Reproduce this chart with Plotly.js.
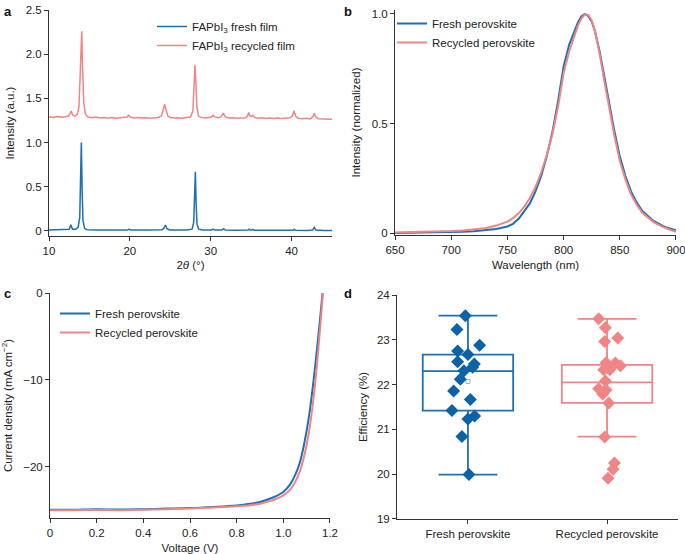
<!DOCTYPE html>
<html>
<head>
<meta charset="utf-8">
<script src="https://cdn.plot.ly/plotly-3.0.1.min.js"></script>
<style>
  html, body { margin: 0; padding: 0; background: #fff; }
  #chart { width: 685px; height: 554px; }
</style>
</head>
<body>
<div id="chart"></div>
<script>
// a: XRD patterns
const xrdFreshX = [10, 11, 12, 12.5, 12.7, 12.9, 13.3, 13.6, 13.8, 13.9, 14.0, 14.1, 14.2, 14.4, 14.7, 16, 18, 19.7, 19.9, 20.1, 22, 24.0, 24.2, 24.4, 24.6, 24.9, 27, 27.7, 27.9, 28.0, 28.1, 28.2, 28.3, 28.5, 29, 30.1, 30.3, 30.5, 31.4, 31.6, 31.8, 33, 34.6, 34.75, 34.9, 35.2, 35.4, 38, 40.2, 40.35, 40.5, 42, 42.6, 42.8, 43.0, 44, 45];
const xrdFreshY = [0.012, 0.012, 0.013, 0.02, 0.07, 0.02, 0.02, 0.04, 0.15, 0.5, 1.0, 0.45, 0.12, 0.03, 0.015, 0.01, 0.01, 0.01, 0.02, 0.01, 0.01, 0.015, 0.03, 0.065, 0.025, 0.012, 0.01, 0.02, 0.1, 0.35, 0.67, 0.3, 0.08, 0.02, 0.012, 0.01, 0.02, 0.01, 0.01, 0.025, 0.01, 0.008, 0.01, 0.02, 0.008, 0.015, 0.008, 0.007, 0.008, 0.018, 0.007, 0.006, 0.01, 0.04, 0.01, 0.005, 0.005];

const xrdRecX = [10, 10.5, 11, 11.5, 12, 12.4, 12.6, 12.75, 12.9, 13.2, 13.5, 13.7, 13.85, 13.95, 14.05, 14.15, 14.3, 14.5, 14.8, 15.3, 15.8, 16.3, 16.8, 17.3, 17.8, 18.3, 18.8, 19.3, 19.65, 19.85, 20.05, 20.5, 21, 21.5, 22, 22.5, 23, 23.5, 23.9, 24.15, 24.3, 24.45, 24.7, 25.0, 25.5, 26, 26.5, 27, 27.5, 27.8, 27.95, 28.05, 28.15, 28.3, 28.5, 28.8, 29.3, 29.8, 30.1, 30.3, 30.5, 30.9, 31.3, 31.55, 31.8, 32.3, 32.8, 33.3, 33.8, 34.3, 34.55, 34.7, 34.85, 35.05, 35.2, 35.4, 35.8, 36.3, 36.8, 37.3, 37.8, 38.3, 38.8, 39.3, 39.8, 40.1, 40.3, 40.5, 40.8, 41.3, 41.8, 42.3, 42.6, 42.8, 43.0, 43.3, 43.8, 44.3, 44.8, 45];
const xrdRecY = [1.292, 1.285, 1.295, 1.287, 1.293, 1.30, 1.33, 1.357, 1.315, 1.30, 1.32, 1.40, 1.75, 2.15, 2.26, 1.85, 1.45, 1.32, 1.29, 1.282, 1.288, 1.278, 1.285, 1.276, 1.283, 1.275, 1.281, 1.279, 1.29, 1.31, 1.288, 1.278, 1.284, 1.277, 1.282, 1.276, 1.28, 1.285, 1.30, 1.37, 1.433, 1.38, 1.30, 1.283, 1.277, 1.281, 1.276, 1.283, 1.29, 1.36, 1.65, 1.88, 1.70, 1.40, 1.30, 1.285, 1.278, 1.282, 1.29, 1.31, 1.29, 1.28, 1.29, 1.335, 1.29, 1.277, 1.281, 1.274, 1.279, 1.28, 1.30, 1.34, 1.30, 1.295, 1.31, 1.285, 1.276, 1.28, 1.273, 1.278, 1.272, 1.277, 1.271, 1.275, 1.28, 1.30, 1.36, 1.30, 1.275, 1.27, 1.274, 1.268, 1.29, 1.33, 1.29, 1.27, 1.266, 1.27, 1.264, 1.266];

// b: photoluminescence
const plWave = [650, 670, 690, 700, 710, 720, 730, 740, 750, 755, 760, 765, 770, 775, 780, 785, 790, 795, 800, 805, 810, 813, 816, 819, 822, 825, 828, 832, 836, 840, 845, 850, 855, 860, 865, 870, 880, 890, 900];
const plFresh = [0.0, 0.001, 0.003, 0.004, 0.006, 0.008, 0.012, 0.018, 0.03, 0.042, 0.065, 0.1, 0.135, 0.19, 0.26, 0.35, 0.46, 0.6, 0.76, 0.86, 0.93, 0.965, 0.99, 1.0, 0.99, 0.965, 0.92, 0.83, 0.72, 0.6, 0.47, 0.35, 0.26, 0.19, 0.14, 0.1, 0.055, 0.028, 0.012];
const plRecycled = [0.002, 0.004, 0.007, 0.009, 0.012, 0.016, 0.022, 0.034, 0.052, 0.068, 0.09, 0.12, 0.16, 0.21, 0.275, 0.355, 0.45, 0.575, 0.73, 0.83, 0.91, 0.95, 0.98, 0.998, 0.995, 0.97, 0.92, 0.82, 0.70, 0.58, 0.45, 0.33, 0.245, 0.175, 0.13, 0.092, 0.05, 0.024, 0.006];

// c: J-V curves
const jvFreshV = [0, 0.1, 0.2, 0.3, 0.4, 0.5, 0.6, 0.7, 0.8, 0.85, 0.9, 0.95, 1.0, 1.03, 1.05, 1.07, 1.09, 1.11, 1.13, 1.15, 1.16, 1.168];
const jvFreshJ = [-24.95, -24.95, -24.9, -24.92, -24.88, -24.82, -24.75, -24.62, -24.45, -24.3, -24.05, -23.6, -22.9, -22.0, -21.0, -19.6, -17.3, -14.2, -10.0, -5.0, -2.3, 0];
const jvRecV = [0, 0.1, 0.2, 0.3, 0.4, 0.5, 0.6, 0.7, 0.8, 0.85, 0.9, 0.95, 1.0, 1.03, 1.05, 1.07, 1.09, 1.11, 1.13, 1.15, 1.16, 1.17];
const jvRecJ = [-25.0, -25.0, -24.98, -25.0, -24.95, -24.88, -24.8, -24.7, -24.55, -24.45, -24.25, -23.9, -23.3, -22.6, -21.8, -20.6, -18.7, -16.0, -12.0, -6.5, -3.3, 0];

// d: efficiency distribution
const groups = ['Fresh perovskite', 'Recycled perovskite'];
const effFresh = [23.54, 23.23, 22.88, 22.75, 22.67, 22.51, 22.46, 22.39, 22.31, 22.12, 21.86, 21.67, 21.42, 21.30, 21.23, 20.84, 19.99];
const jitterFresh = [-0.019, -0.079, 0.084, -0.074, 0, -0.074, 0.046, 0.034, -0.029, -0.055, -0.103, 0.017, -0.115, 0.048, 0, -0.043, 0.007];
const effRecycled = [23.47, 23.27, 22.96, 23.04, 22.49, 22.48, 22.42, 22.33, 22.33, 22.08, 21.91, 21.88, 21.79, 21.59, 20.83, 20.25, 20.11, 19.91];
const jitterRecycled = [-0.06, -0.012, -0.017, 0.077, -0.007, 0.06, 0.096, -0.024, 0.019, -0.012, -0.06, -0.007, -0.031, 0.012, -0.017, 0.053, 0.043, 0.007];
const boxQ1 = [21.42, 21.59];
const boxMedian = [22.30, 22.05];
const boxQ3 = [22.67, 22.44];
const boxLow = [19.99, 20.84];
const boxHigh = [23.54, 23.47];
const boxMean = [22.07, 22.06];

const BLUE = '#1f6fb2';
const BLUE_DOT = '#0b62a6';
const PINK = '#ef8585';
const FONT = 'Liberation Sans, Arial, sans-serif';
const W = 685, H = 554;

// pixel helpers for domains
const dx = (a, b) => [a / W, b / W];
const dy = (top, bottom) => [1 - bottom / H, 1 - top / H];

function axis(domain, range, extra) {
    return Object.assign({
        domain: domain,
        range: range,
        showline: true,
        linecolor: '#333',
        linewidth: 1,
        ticks: 'outside',
        ticklen: 4,
        tickcolor: '#333',
        showgrid: false,
        zeroline: false,
        fixedrange: true,
        ticklabeloverflow: 'allow',
        tickfont: { family: FONT, size: 11.5, color: '#222' }
    }, extra);
}

function axTitle(text, standoff) {
    return { text: text, standoff: standoff, font: { family: FONT, size: 11.5, color: '#222' } };
}

const traces = [
    // a
    { x: xrdFreshX, y: xrdFreshY, xaxis: 'x', yaxis: 'y', type: 'scatter', mode: 'lines',
      name: 'FAPbI<sub>3</sub> fresh film', legend: 'legend', line: { color: BLUE, width: 1.5 } },
    { x: xrdRecX, y: xrdRecY, xaxis: 'x', yaxis: 'y', type: 'scatter', mode: 'lines',
      name: 'FAPbI<sub>3</sub> recycled film', legend: 'legend', line: { color: PINK, width: 1.5 } },
    // b
    { x: plWave, y: plFresh, xaxis: 'x2', yaxis: 'y2', type: 'scatter', mode: 'lines',
      name: 'Fresh perovskite', legend: 'legend2', line: { color: BLUE, width: 2 } },
    { x: plWave, y: plRecycled, xaxis: 'x2', yaxis: 'y2', type: 'scatter', mode: 'lines',
      name: 'Recycled perovskite', legend: 'legend2', line: { color: PINK, width: 2 } },
    // c
    { x: jvFreshV, y: jvFreshJ, xaxis: 'x3', yaxis: 'y3', type: 'scatter', mode: 'lines',
      name: 'Fresh perovskite', legend: 'legend3', line: { color: BLUE, width: 2, shape: 'spline' } },
    { x: jvRecV, y: jvRecJ, xaxis: 'x3', yaxis: 'y3', type: 'scatter', mode: 'lines',
      name: 'Recycled perovskite', legend: 'legend3', line: { color: PINK, width: 2, shape: 'spline' } },
    // d boxes
    { type: 'box', xaxis: 'x4', yaxis: 'y4', x: [0], q1: [boxQ1[0]], median: [boxMedian[0]], q3: [boxQ3[0]],
      lowerfence: [boxLow[0]], upperfence: [boxHigh[0]], boxpoints: false, width: 0.65, whiskerwidth: 0.65,
      line: { color: BLUE, width: 1.8 }, fillcolor: 'rgba(0,0,0,0)', showlegend: false, hoverinfo: 'skip' },
    { type: 'box', xaxis: 'x4', yaxis: 'y4', x: [1], q1: [boxQ1[1]], median: [boxMedian[1]], q3: [boxQ3[1]],
      lowerfence: [boxLow[1]], upperfence: [boxHigh[1]], boxpoints: false, width: 0.65, whiskerwidth: 0.65,
      line: { color: PINK, width: 1.8 }, fillcolor: 'rgba(0,0,0,0)', showlegend: false, hoverinfo: 'skip' },
    { type: 'scatter', mode: 'markers', xaxis: 'x4', yaxis: 'y4', x: [0, 1], y: boxMean, showlegend: false,
      marker: { symbol: 'square-open', size: 4, color: ['#8ab8dc', '#f6b5b5'], line: { width: 1 } } },
    { type: 'scatter', mode: 'markers', xaxis: 'x4', yaxis: 'y4', showlegend: false,
      x: jitterFresh.map(j => 0 + j), y: effFresh,
      marker: { symbol: 'diamond', size: 10, color: BLUE_DOT } },
    { type: 'scatter', mode: 'markers', xaxis: 'x4', yaxis: 'y4', showlegend: false,
      x: jitterRecycled.map(j => 1 + j), y: effRecycled,
      marker: { symbol: 'diamond', size: 10, color: PINK } }
];

const legendBase = {
    xanchor: 'left', yanchor: 'top', bgcolor: 'rgba(0,0,0,0)', borderwidth: 0,
    font: { family: FONT, size: 11.5, color: '#222' }, tracegroupgap: 0
};

const layout = {
    width: W, height: H,
    margin: { l: 0, r: 0, t: 0, b: 0 },
    paper_bgcolor: '#fff', plot_bgcolor: '#fff',
    font: { family: FONT, color: '#222' },
    xaxis: axis(dx(49, 332), [10, 45], { anchor: 'y', tickvals: [10, 20, 30, 40], title: axTitle('2<i>θ</i> (°)', 5) }),
    yaxis: axis(dy(10, 236), [-0.057, 2.5], { anchor: 'x', tickvals: [0, 0.5, 1, 1.5, 2, 2.5],
        ticktext: ['0', '0.5', '1.0', '1.5', '2.0', '2.5'], title: axTitle('Intensity (a.u.)', 8) }),
    xaxis2: axis(dx(395, 676), [649.99, 900.01], { anchor: 'y2', tickvals: [650, 700, 750, 800, 850, 900], title: axTitle('Wavelength (nm)', 6) }),
    yaxis2: axis(dy(10, 235), [-0.009, 1.018], { anchor: 'x2', tickvals: [0, 0.5, 1],
        ticktext: ['0', '0.5', '1.0'], title: axTitle('Intensity (normalized)', 8) }),
    xaxis3: axis(dx(50, 330), [-0.0001, 1.2001], { anchor: 'y3', tickvals: [0, 0.2, 0.4, 0.6, 0.8, 1.0, 1.2],
        ticktext: ['0', '0.2', '0.4', '0.6', '0.8', '1.0', '1.2'], title: axTitle('Voltage (V)', 6) }),
    yaxis3: axis(dy(293, 518), [-25.9, 0.001], { anchor: 'x3', tickvals: [0, -10, -20],
        ticktext: ['0', '−10', '−20'], title: axTitle('Current density (mA cm<sup>−2</sup>)', 8) }),
    xaxis4: axis(dx(397, 678), [-0.51, 1.51], { anchor: 'y4', tickvals: [0, 1], ticktext: groups }),
    yaxis4: axis(dy(295, 519), [18.999, 24.001], { anchor: 'x4', tickvals: [19, 20, 21, 22, 23, 24], title: axTitle('Efficiency (%)', 6) }),
    legend: Object.assign({}, legendBase, { x: 152 / W, y: 1 - 12 / H }),
    legend2: Object.assign({}, legendBase, { x: 392 / W, y: 1 - 9 / H }),
    legend3: Object.assign({}, legendBase, { x: 55 / W, y: 1 - 299 / H }),
    annotations: [
        ['a', 2, 2], ['b', 342, 2], ['c', 2, 284], ['d', 342, 284]
    ].map(p => ({
        text: '<b>' + p[0] + '</b>', xref: 'paper', yref: 'paper', x: p[1] / W, y: 1 - p[2] / H,
        xanchor: 'left', yanchor: 'top', showarrow: false, font: { family: FONT, size: 13, color: '#111' }
    }))
};

Plotly.newPlot('chart', traces, layout, { displayModeBar: false, staticPlot: true });
</script>
</body>
</html>
